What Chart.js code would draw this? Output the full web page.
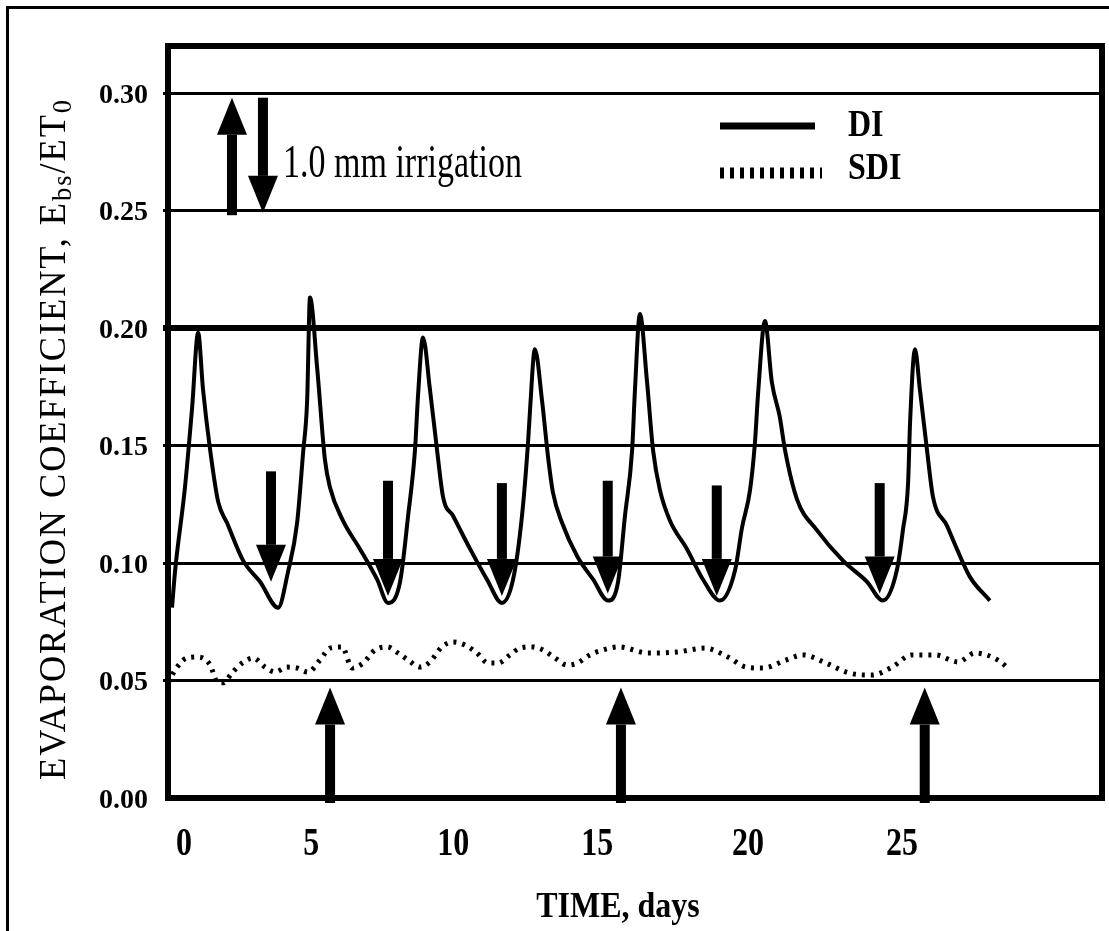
<!DOCTYPE html>
<html>
<head>
<meta charset="utf-8">
<script src="https://cdn.jsdelivr.net/npm/chart.js@4.4.1/dist/chart.umd.min.js"></script>
<style>
    html, body { margin: 0; padding: 0; background: #fff; }
    canvas { display: block; }
</style>
</head>
<body>
<canvas id="chart" width="1109" height="931"></canvas>
<script>
// DI curve (days, Ebs/ET0)
const diDays = [-0.42, -0.31, 0.03, 0.28, 0.49, 0.66, 0.91, 1.19, 1.50, 2.06, 2.65, 3.28, 3.62, 3.94, 4.15, 4.29, 4.39, 4.64, 4.91, 5.09, 5.54, 6.13, 6.73, 7.11, 7.53, 7.81, 8.05, 8.16, 8.33, 8.57, 8.82, 9.03, 9.38, 9.97, 10.56, 11.08, 11.47, 11.78, 11.99, 12.06, 12.23, 12.48, 12.69, 12.86, 13.18, 13.70, 14.26, 14.78, 15.13, 15.37, 15.62, 15.72, 15.89, 16.14, 16.35, 16.59, 16.94, 17.53, 18.09, 18.68, 19.21, 19.45, 19.73, 19.90, 20.01, 20.25, 20.49, 20.77, 20.95, 21.37, 22.06, 22.97, 23.81, 24.36, 24.85, 25.06, 25.24, 25.31, 25.48, 25.65, 25.90, 26.11, 26.59, 26.94, 27.40, 28.09];
const diValues = [0.081, 0.097, 0.132, 0.166, 0.198, 0.174, 0.148, 0.126, 0.117, 0.101, 0.092, 0.081, 0.096, 0.117, 0.147, 0.169, 0.213, 0.183, 0.144, 0.132, 0.118, 0.106, 0.093, 0.083, 0.092, 0.120, 0.148, 0.172, 0.196, 0.174, 0.148, 0.128, 0.120, 0.106, 0.093, 0.083, 0.093, 0.120, 0.151, 0.165, 0.191, 0.169, 0.145, 0.130, 0.117, 0.103, 0.093, 0.084, 0.092, 0.120, 0.148, 0.174, 0.206, 0.177, 0.148, 0.131, 0.118, 0.106, 0.093, 0.084, 0.097, 0.115, 0.131, 0.151, 0.172, 0.203, 0.177, 0.162, 0.148, 0.127, 0.114, 0.101, 0.092, 0.084, 0.097, 0.114, 0.134, 0.160, 0.191, 0.174, 0.148, 0.128, 0.116, 0.106, 0.094, 0.084];

// SDI curve
const sdiDays = [-0.55, -0.31, 0.10, 0.49, 0.91, 1.15, 1.36, 1.67, 2.02, 2.41, 2.82, 3.17, 3.59, 3.94, 4.32, 4.74, 5.09, 5.51, 5.86, 6.24, 6.66, 7.08, 7.46, 7.81, 8.23, 8.57, 8.99, 9.38, 9.79, 10.21, 10.60, 10.94, 11.36, 11.71, 12.13, 12.51, 12.93, 13.35, 13.70, 14.15, 14.60, 15.16, 16.17, 17.18, 18.16, 18.96, 19.59, 20.18, 20.98, 21.58, 22.38, 23.18, 23.98, 24.68, 25.37, 26.18, 26.98, 27.57, 28.37, 28.79];
const sdiValues = [0.049, 0.0545, 0.0596, 0.060, 0.0566, 0.0494, 0.049, 0.0532, 0.0574, 0.0596, 0.0557, 0.0536, 0.0557, 0.0553, 0.0536, 0.0587, 0.0638, 0.0643, 0.0553, 0.0574, 0.063, 0.0643, 0.0617, 0.0587, 0.0557, 0.0579, 0.0643, 0.0664, 0.0651, 0.0617, 0.0574, 0.0574, 0.0609, 0.0638, 0.0643, 0.063, 0.0596, 0.0566, 0.0574, 0.0609, 0.063, 0.0643, 0.0617, 0.0621, 0.0638, 0.060, 0.0557, 0.0553, 0.0587, 0.0609, 0.0574, 0.0532, 0.0523, 0.0557, 0.0609, 0.0609, 0.0579, 0.0617, 0.0587, 0.0545];

// axes
const yTicks = [0, 0.05, 0.10, 0.15, 0.20, 0.25, 0.30];
const xTickLabels = ['0', '5', '10', '15', '20', '25'];
const xTickAt = [0, 4.43, 9.38, 14.40, 19.66, 25.03]; // where the printed labels sit

// irrigation arrows
const diIrrigDays = [3.03, 7.11, 11.08, 14.77, 18.57, 24.25];
const diArrowTop = [0.139, 0.135, 0.134, 0.135, 0.133, 0.134];
const diArrowTip = [0.092, 0.086, 0.086, 0.087, 0.086, 0.087];
const sdiIrrigDays = [5.09, 15.23, 25.82];
const sdiArrowTip = 0.047;

const SERIF = '"Liberation Serif", "Times New Roman", serif';

function txt(ctx, s, x, y, font, align, sy) {
    ctx.save();
    ctx.translate(x, y);
    ctx.scale(1, sy);
    ctx.font = font;
    ctx.textAlign = align;
    ctx.textBaseline = 'alphabetic';
    ctx.fillText(s, 0, 0);
    ctx.restore();
}

function arrow(ctx, x, tail, tip) {
    const dir = tip > tail ? 1 : -1;
    const base = tip - dir * 37;
    ctx.fillRect(x - 5, Math.min(tail, base), 10, Math.abs(base - tail));
    ctx.beginPath();
    ctx.moveTo(x - 15, base);
    ctx.lineTo(x + 15, base);
    ctx.lineTo(x, tip);
    ctx.closePath();
    ctx.fill();
}

const decor = {
    id: 'decor',
    afterDatasetsDraw(chart) {
        const ctx = chart.ctx;
        const a = chart.chartArea;
        const xs = chart.scales.x, ys = chart.scales.y;
        ctx.save();
        ctx.fillStyle = '#000';
        diIrrigDays.forEach((d, i) => {
            arrow(ctx, xs.getPixelForValue(d), ys.getPixelForValue(diArrowTop[i]), ys.getPixelForValue(diArrowTip[i]));
        });
        sdiIrrigDays.forEach(d => {
            arrow(ctx, xs.getPixelForValue(d), a.bottom + 5, ys.getPixelForValue(sdiArrowTip));
        });
        // key arrows for "1.0 mm irrigation"
        arrow(ctx, xs.getPixelForValue(1.67), ys.getPixelForValue(0.248), ys.getPixelForValue(0.298));
        arrow(ctx, xs.getPixelForValue(2.75), ys.getPixelForValue(0.298), ys.getPixelForValue(0.249));

        // plot frame
        ctx.strokeStyle = '#000';
        ctx.lineWidth = 6;
        ctx.strokeRect(a.left, a.top, a.right - a.left, a.bottom - a.top);

        // outer frame (left and top only)
        ctx.lineWidth = 3;
        ctx.beginPath();
        ctx.moveTo(7.5, chart.height);
        ctx.lineTo(7.5, 7.5);
        ctx.lineTo(chart.width, 7.5);
        ctx.stroke();
        ctx.restore();
    },
    afterDraw(chart) {
        const ctx = chart.ctx;
        const a = chart.chartArea;
        const xs = chart.scales.x, ys = chart.scales.y;
        ctx.save();
        ctx.fillStyle = '#000';

        yTicks.forEach(v => {
            txt(ctx, v.toFixed(2), a.left - 20, ys.getPixelForValue(v) + 9.5, 'bold 28px ' + SERIF, 'right', 1);
        });
        xTickLabels.forEach((s, i) => {
            txt(ctx, s, xs.getPixelForValue(xTickAt[i]), a.bottom + 57, 'bold 32px ' + SERIF, 'center', 1.24);
        });
        txt(ctx, 'TIME, days', (a.left + a.right) / 2 - 17, a.bottom + 119, 'bold 32px ' + SERIF, 'center', 1.1);

        txt(ctx, '1.0 mm irrigation', 283, 177, '34px ' + SERIF, 'left', 1.35);

        // legend
        ctx.strokeStyle = '#000';
        ctx.lineWidth = 7;
        ctx.beginPath();
        ctx.moveTo(720, 126);
        ctx.lineTo(815, 126);
        ctx.stroke();
        ctx.lineWidth = 11;
        ctx.setLineDash([4, 6]);
        ctx.beginPath();
        ctx.moveTo(720, 173);
        ctx.lineTo(822, 173);
        ctx.stroke();
        ctx.setLineDash([]);
        txt(ctx, 'DI', 848, 136, 'bold 32px ' + SERIF, 'left', 1.2);
        txt(ctx, 'SDI', 848, 179, 'bold 32px ' + SERIF, 'left', 1.2);

        // y title with subscripts, read bottom to top
        const parts = [
            ['EVAPORATION COEFFICIENT, E', 37, 0],
            ['bs', 27, 6],
            ['/ET', 37, 0],
            ['0', 27, 6]
        ];
        ctx.letterSpacing = '2px';
        let total = 0;
        parts.forEach(p => {
            ctx.font = p[1] + 'px ' + SERIF;
            total += ctx.measureText(p[0]).width;
        });
        const k = (780 - 98) / total;
        ctx.translate(65, 780);
        ctx.rotate(-Math.PI / 2);
        ctx.scale(k, 1);
        ctx.textAlign = 'left';
        ctx.textBaseline = 'alphabetic';
        let pos = 0;
        parts.forEach(p => {
            ctx.font = p[1] + 'px ' + SERIF;
            ctx.fillText(p[0], pos, p[2]);
            pos += ctx.measureText(p[0]).width;
        });
        ctx.restore();
    }
};

const ctx = document.getElementById('chart').getContext('2d');
new Chart(ctx, {
    type: 'line',
    data: {
        datasets: [{
            label: 'DI',
            data: diDays.map((d, i) => ({ x: d, y: diValues[i] })),
            borderColor: '#000',
            borderWidth: 4,
            pointRadius: 0,
            cubicInterpolationMode: 'monotone',
            fill: false
        }, {
            label: 'SDI',
            data: sdiDays.map((d, i) => ({ x: d, y: sdiValues[i] })),
            borderColor: '#000',
            borderWidth: 5,
            borderDash: [3, 6],
            pointRadius: 0,
            cubicInterpolationMode: 'monotone',
            fill: false
        }]
    },
    options: {
        responsive: false,
        animation: false,
        devicePixelRatio: 1,
        layout: { padding: { left: 0, top: 46, right: 7, bottom: 0 } },
        plugins: {
            legend: { display: false },
            tooltip: { enabled: false }
        },
        scales: {
            x: {
                type: 'linear',
                min: -0.56,
                max: 32,
                afterFit: s => { s.height = 133; },
                afterBuildTicks: s => { s.ticks = xTickAt.map(v => ({ value: v })); },
                grid: { display: false },
                border: { display: false },
                ticks: { display: false }
            },
            y: {
                min: 0,
                max: 0.32,
                afterFit: s => { s.width = 168; },
                afterBuildTicks: s => { s.ticks = yTicks.map(v => ({ value: v })); },
                grid: {
                    color: '#000',
                    lineWidth: c => (c.tick && c.tick.value === 0) ? 0 : (c.tick && Math.abs(c.tick.value - 0.2) < 1e-9 ? 6 : 3),
                    tickLength: 5
                },
                border: { display: false },
                ticks: { display: false }
            }
        }
    },
    plugins: [decor]
});
</script>
</body>
</html>
